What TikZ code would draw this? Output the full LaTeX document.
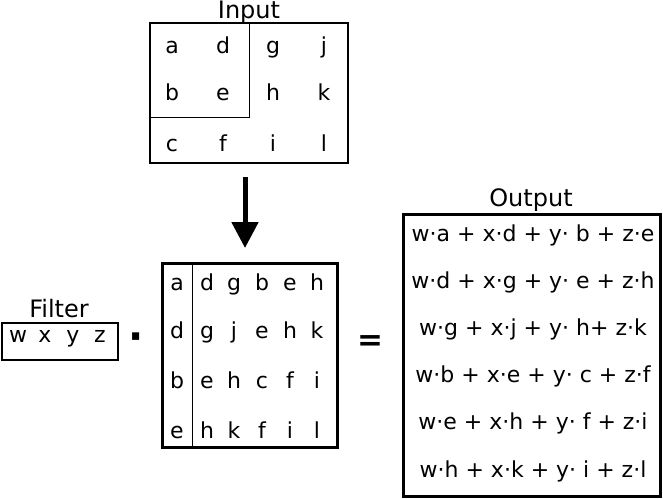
\documentclass[tikz,border=0pt]{standalone}
\usepackage{fontspec}
\setmainfont{DejaVu Sans}
\usetikzlibrary{arrows.meta}
\begin{document}
\begin{tikzpicture}[x=1pt,y=-1pt,
  lab/.style={font=\fontsize{24}{28}\selectfont, inner sep=0pt, anchor=base},
  cell/.style={font=\fontsize{22}{26}\selectfont, inner sep=0pt, anchor=base},
  frm/.style={font=\fontsize{22}{26}\selectfont, inner sep=0pt, anchor=base},
  thickbox/.style={draw, line width=3pt},
  midbox/.style={draw, line width=2.5pt},
  thinline/.style={draw, line width=1pt}]
\useasboundingbox (0,0) rectangle (663,498);
% Input
\node[lab] (inlab) at (249,18) {Input};
\path[midbox] (150,23) rectangle (348,163);
\path[thinline] (150,117) -- (249,117) -- (249,23);
\foreach \t/\x/\y [count=\i] in {a/172/53,d/223/53,g/273/53,j/324/53,
  b/172/100,e/223/100,h/273/100,k/324/100,
  c/172/151,f/223/151,i/273/151,l/324/151}
  \node[cell] (in\i) at (\x,\y) {\t};
% arrow
\coordinate (arrS) at (245,177);
\coordinate (arrE) at (245,248);
\draw[line width=5pt, -{Triangle[width=26pt,length=26pt]}] (arrS) -- (arrE);
% Filter
\node[lab] (fillab) at (59,317) {Filter};
\path[midbox] (2,323) rectangle (118,360);
\foreach \t/\x [count=\i] in {w/18,x/45,y/73,z/100}
  \node[cell] (f\i) at (\x,342) {\t};
% dot
\node[font=\bfseries\fontsize{40}{40}\selectfont, inner sep=0pt] (dot) at (136,342) {·};
% matrix
\path[thickbox] (162,263) rectangle (337,447);
\path[thinline] (192,263) -- (192,447);
\foreach \t/\x/\y [count=\i] in {
  a/177/290,d/207/290,g/234/290,b/262/290,e/290/290,h/317/290,
  d/177/338,g/207/338,j/234/338,e/262/338,h/290/338,k/317/338,
  b/177/388,e/207/388,h/234/388,c/262/388,f/290/388,i/317/388,
  e/177/438,h/207/438,k/234/438,f/262/438,i/290/438,l/317/438}
  \node[cell] (m\i) at (\x,\y) {\t};
% equals
\node[font=\bfseries\fontsize{31}{31}\selectfont, inner sep=0pt] (eq) at (370,343) {=};
% Output
\node[lab] (outlab) at (531,206) {Output};
\path[thickbox] (403,214) rectangle (660,496);
\node[frm] (o1) at (533,241) {w·a + x·d + y· b + z·e};
\node[frm] (o2) at (533,288) {w·d + x·g + y· e + z·h};
\node[frm] (o3) at (533,335) {w·g + x·j + y· h+ z·k};
\node[frm] (o4) at (533,382) {w·b + x·e + y· c + z·f};
\node[frm] (o5) at (533,429) {w·e + x·h + y· f + z·i};
\node[frm] (o6) at (533,477) {w·h + x·k + y· i + z·l};
\end{tikzpicture}
\end{document}
